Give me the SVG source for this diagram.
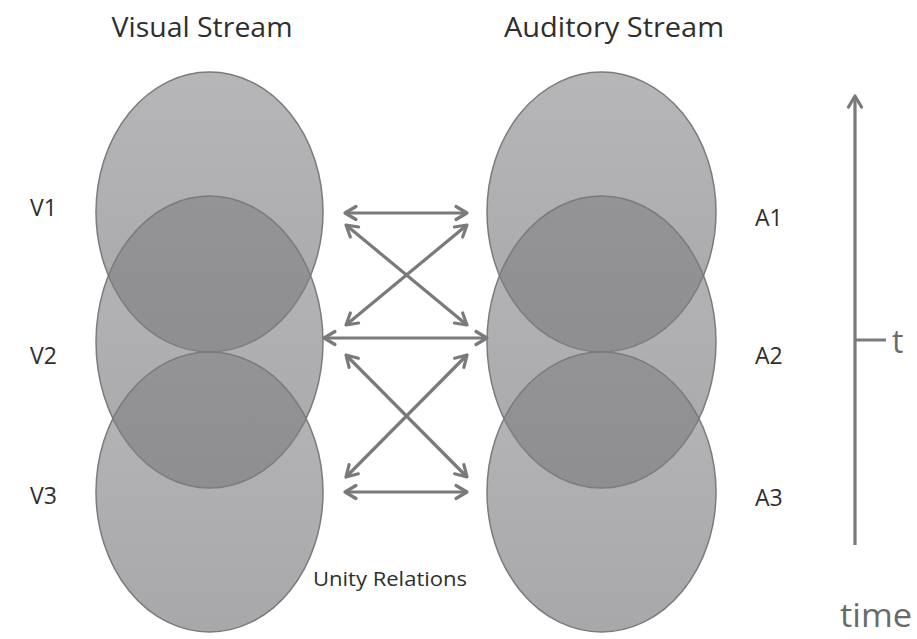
<svg xmlns="http://www.w3.org/2000/svg" width="917" height="639" viewBox="0 0 917 639">
<style>
.lbl{font-family:"Open Sans","Liberation Sans",sans-serif;fill:#2e2e2e}
.ax{font-family:"Open Sans","Liberation Sans",sans-serif;fill:#6a6a6a}
.ell{fill:url(#g);stroke:#7b7b7d;stroke-width:1.5}
.arr{stroke:#7a7a7c;stroke-width:3.2;fill:none;marker-start:url(#ah);marker-end:url(#ah)}
</style>
<defs>
<linearGradient id="g" x1="0" y1="0" x2="0" y2="1">
<stop offset="0" stop-color="#7f7f83" stop-opacity="0.57"/>
<stop offset="1" stop-color="#7f7f83" stop-opacity="0.68"/>
</linearGradient>
<marker id="ah" viewBox="0 0 14 16" refX="12.5" refY="8" markerWidth="14" markerHeight="16" markerUnits="userSpaceOnUse" orient="auto-start-reverse" overflow="visible">
<path d="M1.5,1.5 L12.5,8 L1.5,14.5" fill="none" stroke="#7a7a7c" stroke-width="3.2" stroke-linejoin="round" stroke-linecap="round"/>
</marker>
</defs>
<rect width="917" height="639" fill="#ffffff"/>

<text class="lbl" x="202" y="37" font-size="27" text-anchor="middle" textLength="181" lengthAdjust="spacingAndGlyphs">Visual Stream</text>
<text class="lbl" x="614" y="37" font-size="27" text-anchor="middle" textLength="220" lengthAdjust="spacingAndGlyphs">Auditory Stream</text>

<g id="V1"><ellipse class="ell" cx="209.5" cy="212" rx="113.5" ry="140"/><text class="lbl" x="30" y="216" font-size="23">V1</text></g>
<g id="V2"><ellipse class="ell" cx="209.5" cy="342" rx="113.5" ry="146"/><text class="lbl" x="30" y="364" font-size="23">V2</text></g>
<g id="V3"><ellipse class="ell" cx="209.5" cy="492" rx="113.5" ry="140"/><text class="lbl" x="30" y="504" font-size="23">V3</text></g>

<g id="A1"><ellipse class="ell" cx="601.5" cy="212" rx="114.5" ry="140"/><text class="lbl" x="755" y="226" font-size="23">A1</text></g>
<g id="A2"><ellipse class="ell" cx="601.5" cy="342" rx="114.5" ry="146"/><text class="lbl" x="755" y="364" font-size="23">A2</text></g>
<g id="A3"><ellipse class="ell" cx="601.5" cy="492" rx="114.5" ry="140"/><text class="lbl" x="755" y="506" font-size="23">A3</text></g>

<g id="connectors">
<line class="arr" x1="345" y1="213" x2="467" y2="213"/>
<line class="arr" x1="346" y1="225" x2="467" y2="325"/>
<line class="arr" x1="346" y1="325" x2="467" y2="225"/>
<line class="arr" x1="324" y1="338" x2="487" y2="338"/>
<line class="arr" x1="346" y1="355" x2="467" y2="477"/>
<line class="arr" x1="346" y1="477" x2="467" y2="355"/>
<line class="arr" x1="345" y1="492" x2="467" y2="492"/>
</g>
<text class="lbl" x="390" y="586" font-size="20" text-anchor="middle" textLength="154" lengthAdjust="spacingAndGlyphs">Unity Relations</text>

<g id="timeaxis">
<line x1="855" y1="545" x2="855" y2="96" stroke="#7a7a7c" stroke-width="3.2" marker-end="url(#ah)"/>
<line x1="855" y1="340" x2="886" y2="340" stroke="#7a7a7c" stroke-width="3"/>
<text class="ax" x="892" y="353" font-size="32">t</text>
<text class="ax" x="840" y="627" font-size="33" textLength="72" lengthAdjust="spacingAndGlyphs">time</text>
</g>
</svg>
